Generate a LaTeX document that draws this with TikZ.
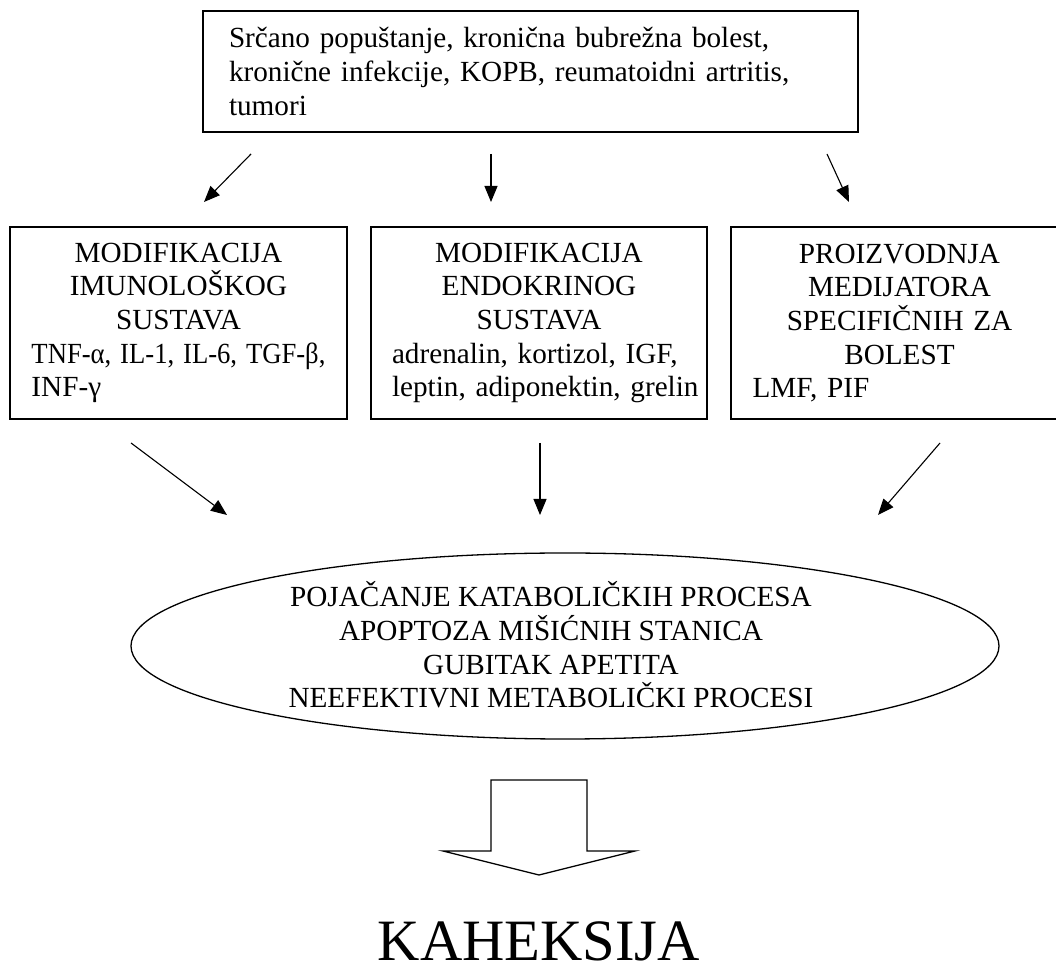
\documentclass[tikz,border=0pt]{standalone}
\usepackage{fontspec}
\setmainfont{Liberation Serif}
\usetikzlibrary{shapes.geometric,arrows.meta}
\tikzset{
  okvir/.style={draw, line width=0.65pt, minimum width=168.5pt, minimum height=96pt,
    text width=147pt, align=left, inner sep=2pt},
  strelica/.style={-{Triangle[length=8pt,width=6.5pt]}, line width=0.55pt},
}
\newcommand{\redak}[1]{\noindent\makebox[\hsize][s]{#1}}
\newcommand{\uzak}[1]{\noindent\resizebox{\hsize}{\height}{#1}}
\begin{document}
\begin{tikzpicture}[x=0.5pt,y=-0.5pt,font=\fontsize{14.6}{16.8}\selectfont]
      \useasboundingbox (0,0) rectangle (1056,972);
      \clip (0,0) rectangle (1056,972);
      \node[draw, line width=0.65pt, minimum width=327.5pt, minimum height=60.5pt,
        text width=301.5pt, align=left, inner sep=2pt] (uzrok) at (530.5,71.5)
        {\redak{Srčano popuštanje, kronična bubrežna bolest,}\\
         \redak{kronične infekcije, KOPB, reumatoidni artritis,}\\
         tumori};
      \node[okvir] (imun) at (178.5,323)
        {{\centering MODIFIKACIJA\\IMUNOLOŠKOG\\SUSTAVA\par}
         \uzak{TNF-α, IL-1, IL-6, TGF-β,}\\INF-γ};
      \node[okvir, minimum width=168pt] (endo) at (539,323)
        {{\centering MODIFIKACIJA\\ENDOKRINOG\\SUSTAVA\par}
         \redak{adrenalin, kortizol, IGF,}\\\mbox{leptin, adiponektin, grelin}};
      \node[okvir] (medij) at (899.5,323)
        {{\centering PROIZVODNJA\\MEDIJATORA\\SPECIFIČNIH ZA\\BOLEST\par}
         LMF, PIF};
      \node[ellipse, draw, line width=0.65pt, minimum width=434pt, minimum height=93pt,
        inner sep=0pt] (procesi) at (565,646) {};
      \node[align=center, inner sep=0pt] (procesitekst) at (551,645)
        {POJAČANJE KATABOLIČKIH PROCESA\\APOPTOZA MIŠIĆNIH STANICA\\GUBITAK APETITA\\
         NEEFEKTIVNI METABOLIČKI PROCESI};
      \node[anchor=base, inner sep=0pt, font=\fontsize{29.3}{35}\selectfont]
        (kaheksija) at (539,961) {KAHEKSIJA};
      \coordinate (u1) at (251,154); \coordinate (i1) at (204,202);
      \coordinate (u2) at (491,154); \coordinate (e1) at (491,202);
      \coordinate (u3) at (827,154); \coordinate (m1) at (849,202);
      \coordinate (i2) at (131,443); \coordinate (p1) at (227,515);
      \coordinate (e2) at (540,443); \coordinate (p2) at (540,515);
      \coordinate (m2) at (940,443); \coordinate (p3) at (878,515);
      \begin{scope}[strelica]
        \draw (u1) to (i1);
        \draw (u2) to (e1);
        \draw (u3) to (m1);
        \draw (i2) to (p1);
        \draw (e2) to (p2);
        \draw (m2) to (p3);
      \end{scope}
      \draw[line width=0.65pt] (491,780) -- (491,851) -- (443,851) -- (539,875)
        -- (635,851) -- (587,851) -- (587,780) -- cycle;
    \end{tikzpicture}
\end{document}
